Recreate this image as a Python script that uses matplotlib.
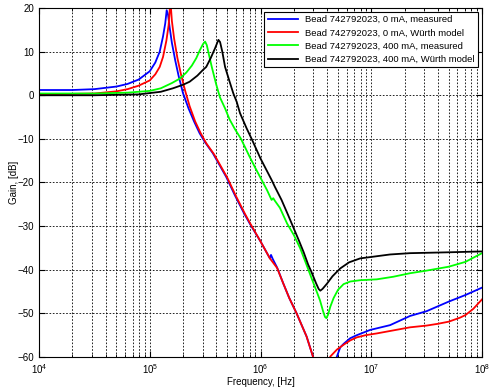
import matplotlib
matplotlib.use('Agg')
import matplotlib.pyplot as plt
import numpy as np

plt.rcParams['font.family'] = ['Liberation Sans', 'DejaVu Sans']
plt.rcParams['font.size'] = 7

# frequencies are given as log10(f / Hz), gains in dB

# Bead 742792023, 0 mA, measured
lf_blue = [4.0, 4.3, 4.5, 4.7, 4.8, 4.9, 5.0, 5.05, 5.09, 5.12, 5.14, 5.153, 5.165, 5.18,
           5.20, 5.23, 5.26, 5.30, 5.35, 5.40, 5.45, 5.50, 5.57, 5.63, 5.69, 5.77, 5.85,
           5.905, 6.0, 6.085, 6.095, 6.11, 6.15, 6.205, 6.26, 6.326, 6.416, 6.475, 6.55,
           6.62, 6.69, 6.72, 6.75, 6.81, 6.87, 6.99, 7.17, 7.35, 7.5, 7.7, 7.85, 8.0]
g_blue = [1.2, 1.2, 1.4, 2.0, 2.6, 3.6, 5.5, 7.5, 10.0, 13.5, 16.5, 19.5, 18.5, 15.5,
          12.0, 8.0, 4.5, 0.5, -3.0, -6.0, -8.7, -10.8, -13.3, -16.0, -18.7, -23.0, -27.0,
          -29.5, -33.5, -37.4, -36.6, -37.5, -39.5, -43.1, -46.5, -50.0, -55.3, -60.0, -64.0,
          -64.0, -59.9, -57.8, -57.0, -55.7, -55.0, -53.8, -52.7, -50.6, -49.5, -47.3, -45.8, -44.1]

# Bead 742792023, 0 mA, Wurth model
lf_red = [4.0, 4.5, 4.7, 4.8, 4.9, 5.0, 5.05, 5.09, 5.12, 5.15, 5.17, 5.183, 5.19, 5.20,
          5.22, 5.25, 5.28, 5.32, 5.36, 5.41, 5.46, 5.51, 5.58, 5.64, 5.70, 5.78, 5.86,
          5.905, 6.0, 6.085, 6.15, 6.205, 6.26, 6.326, 6.416, 6.475, 6.53, 6.60, 6.63,
          6.69, 6.75, 6.81, 6.87, 6.95, 7.05, 7.2, 7.35, 7.5, 7.6, 7.7, 7.8, 7.85, 7.92, 8.0]
g_red = [0.2, 0.4, 0.9, 1.4, 2.2, 3.4, 4.8, 6.5, 8.8, 12.5, 16.0, 20.5, 20.5, 17.0,
         13.0, 8.5, 5.0, 1.0, -2.5, -6.0, -8.7, -11.0, -13.5, -16.2, -18.9, -23.2, -27.2,
         -29.3, -33.5, -37.4, -39.6, -43.1, -46.5, -50.0, -55.3, -60.0, -64.0, -63.0, -59.9,
         -58.3, -57.2, -56.2, -55.5, -55.0, -54.6, -53.9, -53.2, -52.8, -52.4, -51.9, -51.0,
         -50.4, -49.0, -46.8]

# Bead 742792023, 400 mA, measured
lf_green = [4.0, 4.5, 4.8, 5.0, 5.1, 5.2, 5.27, 5.33, 5.38, 5.42, 5.45, 5.48, 5.50, 5.515,
            5.53, 5.56, 5.60, 5.634, 5.68, 5.72, 5.77, 5.824, 5.9, 5.95, 6.01, 6.06, 6.10,
            6.115, 6.13, 6.175, 6.24, 6.30, 6.357, 6.41, 6.462, 6.50, 6.537, 6.565, 6.582,
            6.595, 6.61, 6.63, 6.66, 6.70, 6.75, 6.81, 6.90, 7.05, 7.2, 7.35, 7.5, 7.7,
            7.85, 8.0]
g_green = [0.4, 0.4, 0.6, 1.0, 1.6, 2.8, 3.8, 5.2, 6.8, 8.5, 10.2, 11.7, 12.3, 11.5,
           9.8, 6.5, 2.5, -0.5, -3.0, -5.5, -7.8, -10.0, -14.0, -16.5, -19.4, -21.8, -24.0,
           -23.6, -24.2, -25.8, -29.4, -32.0, -35.0, -38.5, -42.0, -44.5, -47.0, -49.5, -50.8,
           -51.1, -50.3, -48.5, -46.5, -44.6, -43.3, -42.7, -42.4, -42.2, -41.6, -40.8, -40.2,
           -39.3, -38.2, -36.2]

# Bead 742792023, 400 mA, Wurth model
lf_black = [4.0, 4.5, 4.9, 5.1, 5.21, 5.3, 5.36, 5.43, 5.48, 5.51, 5.55, 5.59, 5.62, 5.635,
            5.655, 5.68, 5.72, 5.755, 5.785, 5.815, 5.875, 5.92, 6.0, 6.10, 6.13, 6.19, 6.25,
            6.30, 6.35, 6.39, 6.43, 6.46, 6.50, 6.525, 6.54, 6.56, 6.60, 6.65, 6.72, 6.80,
            6.90, 7.05, 7.17, 7.35, 7.7, 8.0]
g_black = [0.0, 0.0, 0.2, 0.8, 1.6, 2.4, 3.1, 4.5, 5.8, 6.5, 8.5, 10.8, 12.7, 12.2,
           10.0, 6.5, 3.2, 0.4, -1.5, -4.1, -7.6, -10.0, -14.5, -19.4, -21.0, -24.0, -27.5,
           -30.5, -33.5, -36.0, -38.8, -40.5, -43.0, -44.4, -44.8, -44.4, -43.2, -41.5, -39.7,
           -38.3, -37.4, -36.9, -36.5, -36.2, -36.0, -35.8]

labels = ['Bead 742792023, 0 mA, measured',
          'Bead 742792023, 0 mA, W\u00fcrth model',
          'Bead 742792023, 400 mA, measured',
          'Bead 742792023, 400 mA, W\u00fcrth model']

series = [(lf_blue, g_blue, '#0000ff'),
          (lf_red, g_red, '#ff0000'),
          (lf_green, g_green, '#00ff00'),
          (lf_black, g_black, 'black')]

fig = plt.figure(figsize=(5, 3.91), dpi=100)
ax = fig.add_axes([0.078, 0.087, 0.886, 0.8925])

for (lf, g, c), lab in zip(series, labels):
    ax.semilogx(np.power(10.0, lf), g, color=c, lw=1.3, label=lab)

ax.set_xlim(1e4, 1e8)
ax.set_ylim(-60, 20)
ax.set_yticks(np.arange(-60, 21, 10))
ax.grid(True, which='major', ls=(0, (2, 2)), color='black', lw=0.6)
ax.grid(True, which='minor', axis='x', ls=(0, (2, 2)), color='black', lw=0.6)
ax.tick_params(which='both', direction='in', top=True, right=True, labelsize=7)
ax.tick_params(which='major', length=4)
ax.tick_params(which='minor', length=2)

ax.set_xlabel('Frequency, [Hz]', fontsize=7, labelpad=1)
ax.set_ylabel('Gain, [dB]', fontsize=7, labelpad=-1)

leg = ax.legend(loc='upper right', fontsize=6.8, fancybox=False, framealpha=1,
                edgecolor='black', handlelength=3.2, borderaxespad=0.4,
                labelspacing=0.45, borderpad=0.35)
leg.get_frame().set_linewidth(0.8)

fig.savefig('out.png', dpi=100)
